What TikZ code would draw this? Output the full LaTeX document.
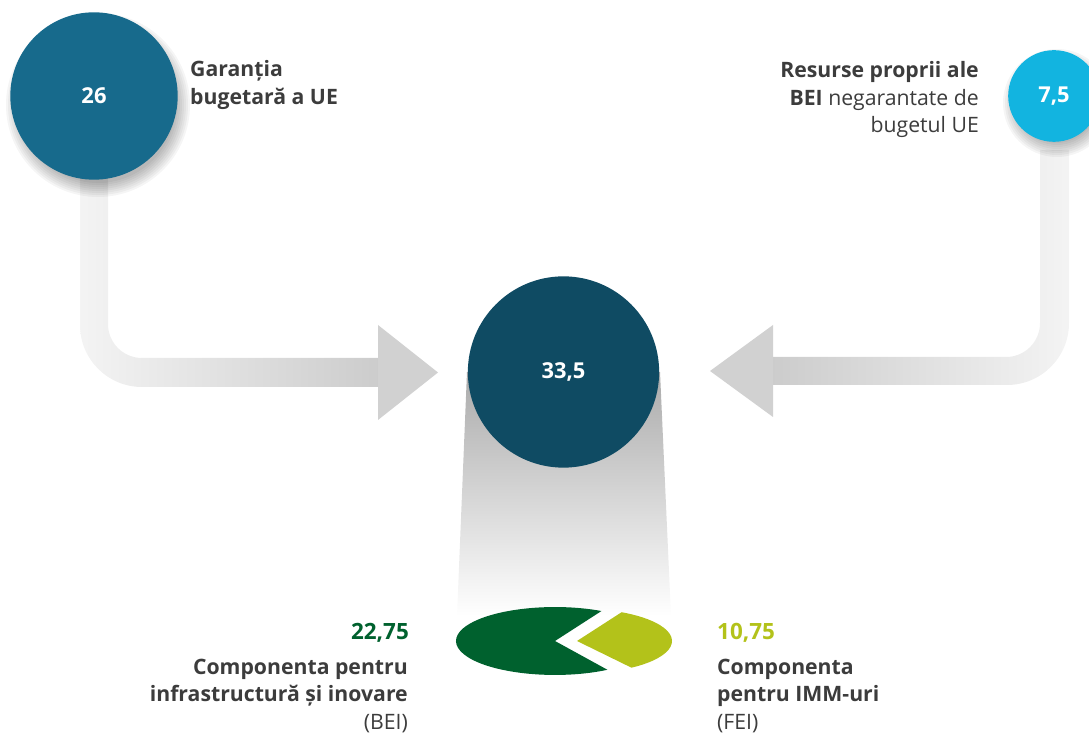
\documentclass[tikz,border=0pt]{standalone}
\usepackage{fontspec}
\setmainfont{Open Sans}
\usetikzlibrary{calc}
\definecolor{ueblue}{HTML}{176A8C}
\definecolor{totblue}{HTML}{0F4B63}
\definecolor{beiblue}{HTML}{12B4E0}
\definecolor{darkgreen}{HTML}{00612E}
\definecolor{limegreen}{HTML}{B3C21A}
\definecolor{txtgray}{HTML}{3C3C3C}
\tikzset{
	circ/.style={circle, inner sep=0pt, text=white, font=\fontsize{22}{22}\selectfont\bfseries},
	lbl/.style={inner sep=0pt, text=txtgray, font=\fontsize{21.3}{27.8}\selectfont},
	num/.style={inner sep=0pt, font=\fontsize{22.5}{22.5}\selectfont\bfseries},
	head/.style={fill=gray!36},
	blur/.style={black, opacity=.04}
}

\begin{document}
\begin{tikzpicture}[x=1bp,y=1bp]
		\useasboundingbox (0,0) rectangle (1089,736);
		\shade[left color=gray!9, right color=gray!40]
		(80,586) -- (80,411) arc[start angle=180,end angle=270,radius=62] -- (380,349) -- (380,378)
		-- (142,378) arc[start angle=270,end angle=180,radius=34] -- (108,586) -- cycle;
		\fill[head] (378,411) -- (438,363.5) -- (378,316) -- cycle;
		\shade[left color=gray!40, right color=gray!9]
		(1069,586) -- (1069,413) arc[start angle=0,end angle=-90,radius=62] -- (771,351) -- (771,379)
		-- (1006,379) arc[start angle=-90,end angle=0,radius=34] -- (1040,586) -- cycle;
		\fill[head] (773,411) -- (710,365) -- (773,319) -- cycle;
		\shade[top color=gray!66, bottom color=white] (467,364) -- (660,364) -- (671,120) -- (457,120) -- cycle;
		\foreach \k in {1,...,8}
		{
			\fill[blur] (98,631) circle[radius=76+2*\k];
			\fill[blur] (1057,633) circle[radius=38+2*\k];
		}
		\node[circ, fill=ueblue, minimum size=168] (c26) at (94,640) {26};
		\node[circ, fill=totblue, minimum size=192] (c335) at (563.5,364) {33,5};
		\node[circ, fill=beiblue, minimum size=92] (c75) at (1054,640) {7,5};
		\begin{scope}[shift={(555,95)}, yscale=0.343]
			\fill[darkgreen] (0,0) -- (62:99) arc[start angle=62,end angle=302,radius=99] -- cycle;
			\fill[limegreen] (22,0) -- ++(-55:95) arc[start angle=-55,end angle=62,radius=95] -- cycle;
		\end{scope}
		\node[lbl, anchor=north west, align=left] (garantie) at (190,676) {\textbf{Garanția}\\\textbf{bugetară a UE}};
		\node[lbl, anchor=north east, align=right] (resurse) at (979,675)
		{\textbf{Resurse proprii ale}\\\textbf{BEI} negarantate de\\bugetul UE};
		\node[num, anchor=base east, text=darkgreen] (v2275) at (409,96) {22,75};
		\node[lbl, anchor=north east, align=right] (infra) at (408,77.5)
		{\textbf{Componenta pentru}\\\textbf{infrastructură și inovare}\\(BEI)};
		\node[num, anchor=base west, text=limegreen] (v1075) at (717,96) {10,75};
		\node[lbl, anchor=north west, align=left] (imm) at (717,77.5)
		{\textbf{Componenta}\\\textbf{pentru IMM-uri}\\(FEI)};
\end{tikzpicture}
\end{document}
